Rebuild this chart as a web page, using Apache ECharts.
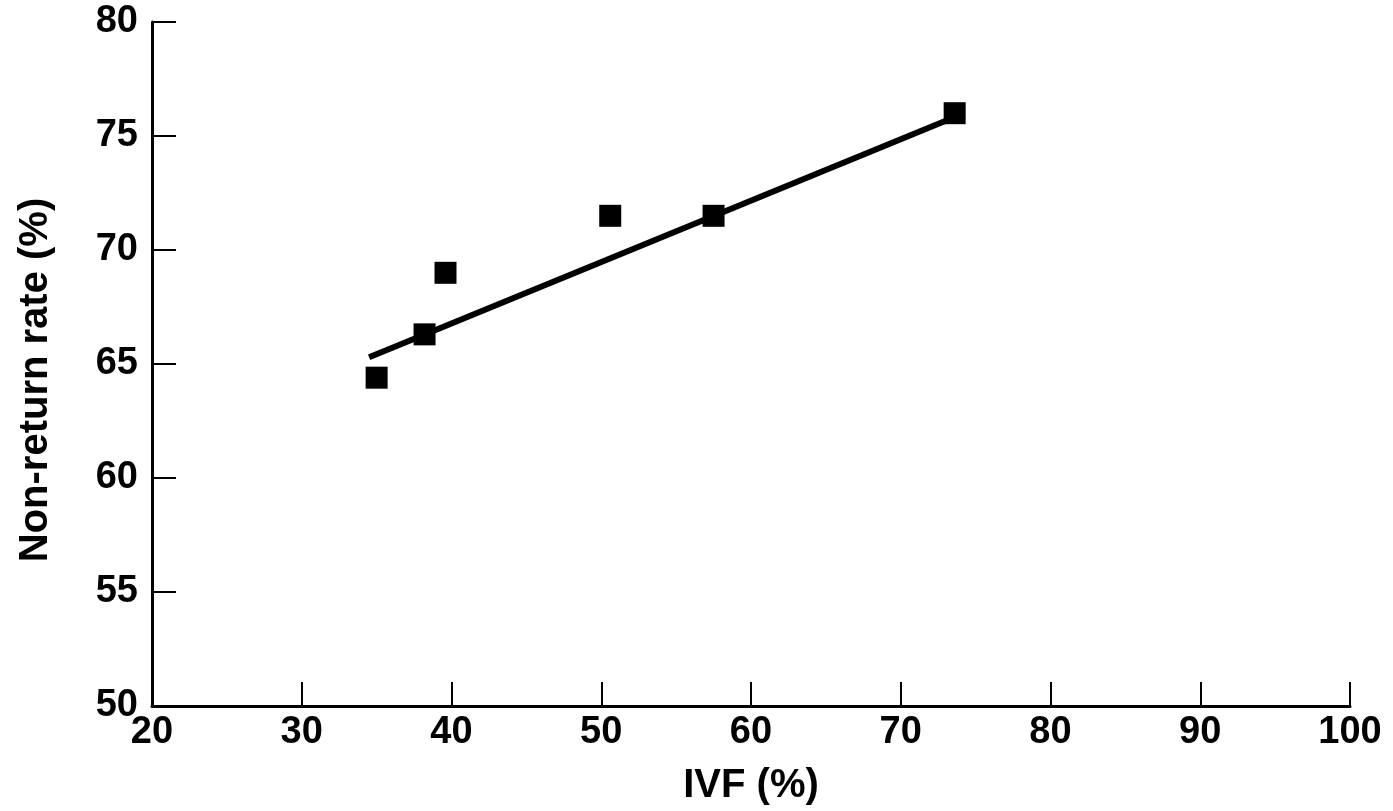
<!DOCTYPE html>
<html>
<head>
<meta charset="utf-8">
<script src="https://cdn.jsdelivr.net/npm/echarts@6/dist/echarts.min.js"></script>
<style>
  html, body { margin: 0; padding: 0; background: #fff; }
  #chart { width: 1393px; height: 811px; }
</style>
</head>
<body>
<div id="chart"></div>
<script>
// measured points (IVF %, non-return rate %)
const ivf = [35, 38.2, 39.6, 50.6, 57.5, 73.6];
const nonReturn = [64.4, 66.3, 69.0, 71.5, 71.5, 76.0];
// fitted line end points
const fitX = [34.5, 73.5];
const fitY = [65.3, 75.8];

const xTicks = [20, 30, 40, 50, 60, 70, 80, 90, 100];
const yTicks = [50, 55, 60, 65, 70, 75, 80];

const font = 'Liberation Sans, Arial, sans-serif';

let myChart = echarts.init(document.getElementById('chart'));

myChart.setOption({
  backgroundColor: '#fff',
  animation: false,
  grid: {
    left: 152,
    right: 43,
    top: 22,
    bottom: 102
  },
  xAxis: {
    type: 'value',
    min: xTicks[0],
    max: xTicks[xTicks.length - 1],
    interval: 10,
    name: 'IVF (%)',
    nameLocation: 'middle',
    nameGap: 60,
    nameTextStyle: { color: '#000', fontSize: 40, fontFamily: font, fontWeight: 'bold' },
    axisLine: { lineStyle: { color: '#000', width: 3 } },
    axisTick: { inside: true, length: 24, lineStyle: { color: '#000', width: 2 } },
    axisLabel: { color: '#000', fontSize: 38, fontFamily: font, fontWeight: 'bold', margin: 8 },
    splitLine: { show: false }
  },
  yAxis: {
    type: 'value',
    min: yTicks[0],
    max: yTicks[yTicks.length - 1],
    interval: 5,
    name: 'Non-return rate (%)',
    nameLocation: 'middle',
    nameGap: 96,
    nameRotate: 90,
    nameTextStyle: { color: '#000', fontSize: 40, fontFamily: font, fontWeight: 'bold', padding: [0, 32, 0, 0] },
    axisLine: { lineStyle: { color: '#000', width: 3 } },
    axisTick: { inside: true, length: 24, lineStyle: { color: '#000', width: 2 } },
    axisLabel: { color: '#000', fontSize: 38, fontFamily: font, fontWeight: 'bold', margin: 14 },
    splitLine: { show: false }
  },
  series: [
    {
      type: 'line',
      data: fitX.map((x, i) => [x, fitY[i]]),
      symbol: 'none',
      lineStyle: { color: '#000', width: 6 },
      z: 2
    },
    {
      type: 'scatter',
      data: ivf.map((x, i) => [x, nonReturn[i]]),
      symbol: 'rect',
      symbolSize: 22,
      itemStyle: { color: '#000', opacity: 1 },
      z: 3
    }
  ]
});
</script>
</body>
</html>
